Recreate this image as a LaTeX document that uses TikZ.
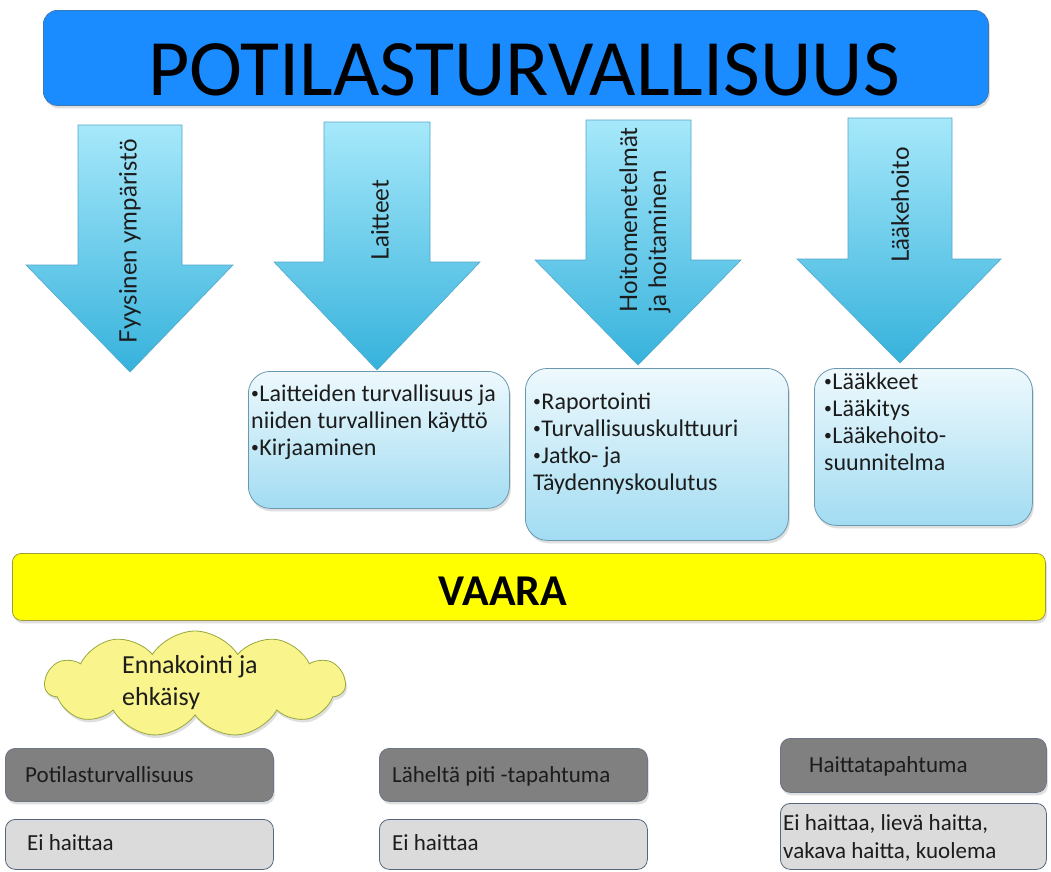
\documentclass[tikz,border=0pt]{standalone}
\usepackage{fontspec}
\usepackage{graphicx}
\setmainfont{Carlito}
\newfontfamily\latofont{Lato}
\usetikzlibrary{shapes.symbols,shadows}

\definecolor{titleblue}{HTML}{1A8CFF}
\definecolor{titleborder}{HTML}{3B78B8}
\definecolor{arrtop}{HTML}{A6E8FA}
\definecolor{arrbot}{HTML}{36B2DC}
\definecolor{arrborder}{HTML}{52A8CA}
\definecolor{boxtop}{HTML}{EEF9FD}
\definecolor{boxbot}{HTML}{A2DCF2}
\definecolor{boxborder}{HTML}{6A98AE}
\definecolor{vaarafill}{HTML}{FFFF00}
\definecolor{vaaraborder}{HTML}{9C9C3C}
\definecolor{cloudfill}{HTML}{FAF48C}
\definecolor{cloudborder}{HTML}{98A83C}
\definecolor{darkgray}{HTML}{808080}
\definecolor{darkgrayborder}{HTML}{6C7686}
\definecolor{lightgray}{HTML}{DBDBDB}
\definecolor{lightgrayborder}{HTML}{56677C}
\definecolor{txt}{HTML}{1C1C1C}

\newcommand\bul{\raisebox{0.12em}{\scalebox{0.65}{•}}\kern0.5pt}

\tikzset{
  shade/.style={drop shadow={opacity=0.25, shadow xshift=1.5pt, shadow yshift=-3pt}},
  titlebox/.style={draw=titleborder, line width=0.8pt, fill=titleblue, rounded corners=14pt, anchor=north west, inner sep=0, shade},
  arrowshape/.style={draw=arrborder, line width=0.6pt, top color=arrtop, bottom color=arrbot},
  arrowtext/.style={rotate=90, font=\latofont\fontsize{24}{29}\selectfont, text=txt, inner sep=0, align=left},
  infobox/.style={draw=boxborder, line width=0.8pt, top color=boxtop, bottom color=boxbot, rounded corners=22pt, anchor=north west, inner sep=0, shade},
  infotext/.style={anchor=base west, inner sep=0, text=txt, font=\fontsize{24}{27}\selectfont},
  vaarabox/.style={draw=vaaraborder, line width=0.8pt, fill=vaarafill, rounded corners=9pt, anchor=north west, inner sep=0, shade},
  cloudbox/.style={cloud, cloud puffs=11, cloud puff arc=115, aspect=3, draw=cloudborder, line width=0.8pt, fill=cloudfill, inner sep=0, shade},
  darkbox/.style={draw=darkgrayborder, line width=0.8pt, fill=darkgray, rounded corners=10pt, anchor=north west, inner sep=0, shade},
  lightbox/.style={draw=lightgrayborder, line width=0.8pt, fill=lightgray, rounded corners=10pt, anchor=north west, inner sep=0},
  smalltext/.style={anchor=base west, inner sep=0, text=txt, font=\fontsize{23}{28}\selectfont},
}

\begin{document}
\begin{tikzpicture}[x=1pt,y=-1pt]
\useasboundingbox[fill=white] (0,0) rectangle (1051,871);

% title
\node[titlebox, minimum width=945pt, minimum height=95pt] (title) at (43,10) {};
\node[anchor=base, inner sep=0, text=black, font=\fontsize{80}{82}\selectfont] (titletext) at (524,95) {POTILASTURVALLISUUS};

% arrows
\path[arrowshape] (78,125) -- (182,125) -- (182,265) -- (233,265) -- (130,372) -- (26,265) -- (78,265) -- cycle;
\path[arrowshape] (324,122) -- (430,122) -- (430,262) -- (480,262) -- (377,370) -- (274,262) -- (324,262) -- cycle;
\path[arrowshape] (586,120) -- (691,120) -- (691,260) -- (741,260) -- (638,365) -- (535,260) -- (586,260) -- cycle;
\path[arrowshape] (848,118) -- (952,118) -- (952,259) -- (1001,259) -- (900,363) -- (797,259) -- (848,259) -- cycle;

\node[arrowtext] (a1) at (130,241) {Fyysinen ympäristö};
\node[arrowtext] (a2) at (380,220) {Laitteet};
\node[arrowtext] (a3) at (645,220) {Hoitomenetelmät\\ja hoitaminen};
\node[arrowtext] (a4) at (900,205) {Lääkehoito};

% info boxes
\node[infobox, minimum width=261pt, minimum height=137pt] (b1) at (248,371) {};
\node[infobox, minimum width=263pt, minimum height=172pt] (b2) at (525,368) {};
\node[infobox, minimum width=218pt, minimum height=157pt] (b3) at (814,368) {};

\node[infotext] (t1) at (251,401) {\parbox[t]{260pt}{\raggedright \bul Laitteiden turvallisuus ja\\niiden turvallinen käyttö\\\bul Kirjaaminen}};
\node[infotext] (t2) at (533,409) {\parbox[t]{250pt}{\raggedright \bul Raportointi\\\bul Turvallisuuskulttuuri\\\bul Jatko- ja\\Täydennyskoulutus}};
\node[infotext] (t3) at (824,389) {\parbox[t]{200pt}{\raggedright \bul Lääkkeet\\\bul Lääkitys\\\bul Lääkehoito-\\suunnitelma}};

% VAARA
\node[vaarabox, minimum width=1033pt, minimum height=67pt] (vaara) at (12,553) {};
\node[anchor=base, inner sep=0, text=black, font=\bfseries\fontsize{44}{48}\selectfont] (vaaratext) at (503,605) {VAARA};

% cloud
\node[cloudbox, minimum width=300pt, minimum height=106pt] (cloud) at (195,684) {};
\node[anchor=base west, inner sep=0, text=txt, font=\fontsize{26}{32}\selectfont] (cloudtext) at (122,673) {\parbox[t]{200pt}{\raggedright Ennakointi ja\\ehkäisy}};

% bottom boxes
\node[darkbox, minimum width=268pt, minimum height=53pt] (g1) at (5,748) {};
\node[darkbox, minimum width=268pt, minimum height=53pt] (g2) at (379,748) {};
\node[darkbox, minimum width=266pt, minimum height=54pt] (g3) at (780,738) {};
\node[smalltext] (g1t) at (25,782) {Potilasturvallisuus};
\node[smalltext] (g2t) at (392,782) {Läheltä piti -tapahtuma};
\node[smalltext] (g3t) at (809,772) {Haittatapahtuma};

\node[lightbox, minimum width=268pt, minimum height=50pt] (l1) at (5,819) {};
\node[lightbox, minimum width=268pt, minimum height=50pt] (l2) at (379,819) {};
\node[lightbox, minimum width=266pt, minimum height=66pt] (l3) at (780,803) {};
\node[smalltext] (l1t) at (27,850) {Ei haittaa};
\node[smalltext] (l2t) at (392,850) {Ei haittaa};
\node[smalltext] (l3t) at (783,830) {\parbox[t]{260pt}{\raggedright Ei haittaa, lievä haitta,\\vakava haitta, kuolema}};
\end{tikzpicture}
\end{document}
